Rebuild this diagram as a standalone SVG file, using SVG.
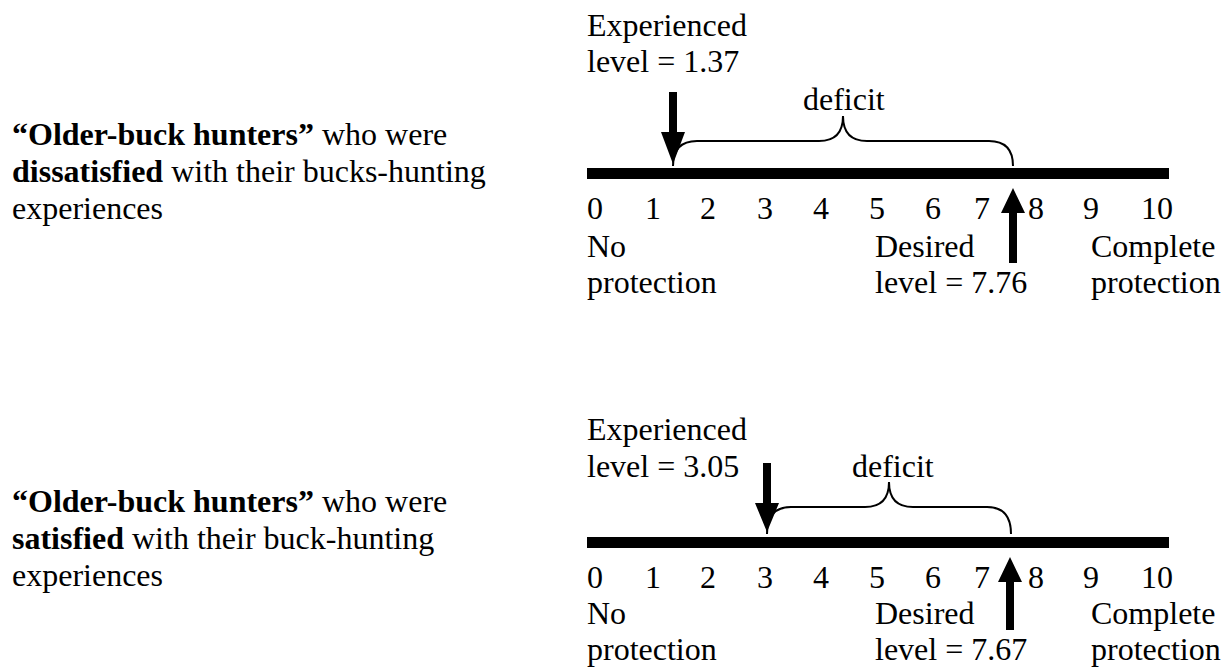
<svg xmlns="http://www.w3.org/2000/svg" width="1225" height="669" viewBox="0 0 1225 669">
<style>
.b{font-weight:bold}
.bar{fill:#000}
.brace{fill:none;stroke:#000;stroke-width:2}
.arr{fill:#000}
</style>
<rect width="1225" height="669" fill="#fff"/>
<g font-family="'Liberation Serif', 'Times New Roman', Times, 'DejaVu Serif', serif" font-size="32" fill="#000">

<g id="label-dissatisfied">
<text x="12" y="145"><tspan class="b">“Older-buck hunters”</tspan> who were</text>
<text x="12" y="182"><tspan class="b">dissatisfied</tspan> with their bucks-hunting</text>
<text x="12" y="219">experiences</text>
</g>

<g id="label-satisfied">
<text x="12" y="512"><tspan class="b">“Older-buck hunters”</tspan> who were</text>
<text x="12" y="549"><tspan class="b">satisfied</tspan> with their buck-hunting</text>
<text x="12" y="586">experiences</text>
</g>

<g id="scale-top">
<text x="587" y="36">Experienced</text>
<text x="587" y="72">level = 1.37</text>
<text x="803" y="110">deficit</text>
<rect class="bar" x="587" y="168" width="582" height="11"/>
<text y="219"><tspan x="587">0</tspan><tspan x="645">1</tspan><tspan x="700">2</tspan><tspan x="757">3</tspan><tspan x="813">4</tspan><tspan x="869">5</tspan><tspan x="925">6</tspan><tspan x="974">7</tspan><tspan x="1028">8</tspan><tspan x="1083">9</tspan><tspan x="1141">10</tspan></text>
<text x="587" y="257">No</text>
<text x="587" y="293">protection</text>
<text x="875" y="257">Desired</text>
<text x="875" y="293">level = 7.76</text>
<text x="1091" y="257">Complete</text>
<text x="1091" y="293">protection</text>
</g>

<g id="scale-bottom">
<text x="587" y="440">Experienced</text>
<text x="587" y="477">level = 3.05</text>
<text x="852" y="477">deficit</text>
<rect class="bar" x="587" y="537" width="582" height="11"/>
<text y="588"><tspan x="587">0</tspan><tspan x="645">1</tspan><tspan x="700">2</tspan><tspan x="757">3</tspan><tspan x="813">4</tspan><tspan x="869">5</tspan><tspan x="925">6</tspan><tspan x="974">7</tspan><tspan x="1028">8</tspan><tspan x="1083">9</tspan><tspan x="1141">10</tspan></text>
<text x="587" y="624">No</text>
<text x="587" y="660">protection</text>
<text x="875" y="624">Desired</text>
<text x="875" y="660">level = 7.67</text>
<text x="1091" y="624">Complete</text>
<text x="1091" y="660">protection</text>
</g>
</g>

<g id="connectors">
<path class="brace" d="M673,166 Q673,141 697,141 L819,141 Q843,141 843,116 Q843,141 867,141 L989,141 Q1013,141 1013,166"/>
<path class="arr" d="M669,92 H677 V132 H685 L673,164 L661,132 H669 Z"/>
<path class="arr" d="M1009,263 V213 H1001 L1013,188 L1025,213 H1017 V263 Z"/>
<path class="brace" d="M767,534 Q767,507 791,507 L865,507 Q889,507 889,482 Q889,507 913,507 L987,507 Q1011,507 1011,534"/>
<path class="arr" d="M763,463 H771 V503 H779 L767,532 L755,503 H763 Z"/>
<path class="arr" d="M1006,630 V582 H998 L1010,557 L1022,582 H1014 V630 Z"/>
</g>
</svg>
